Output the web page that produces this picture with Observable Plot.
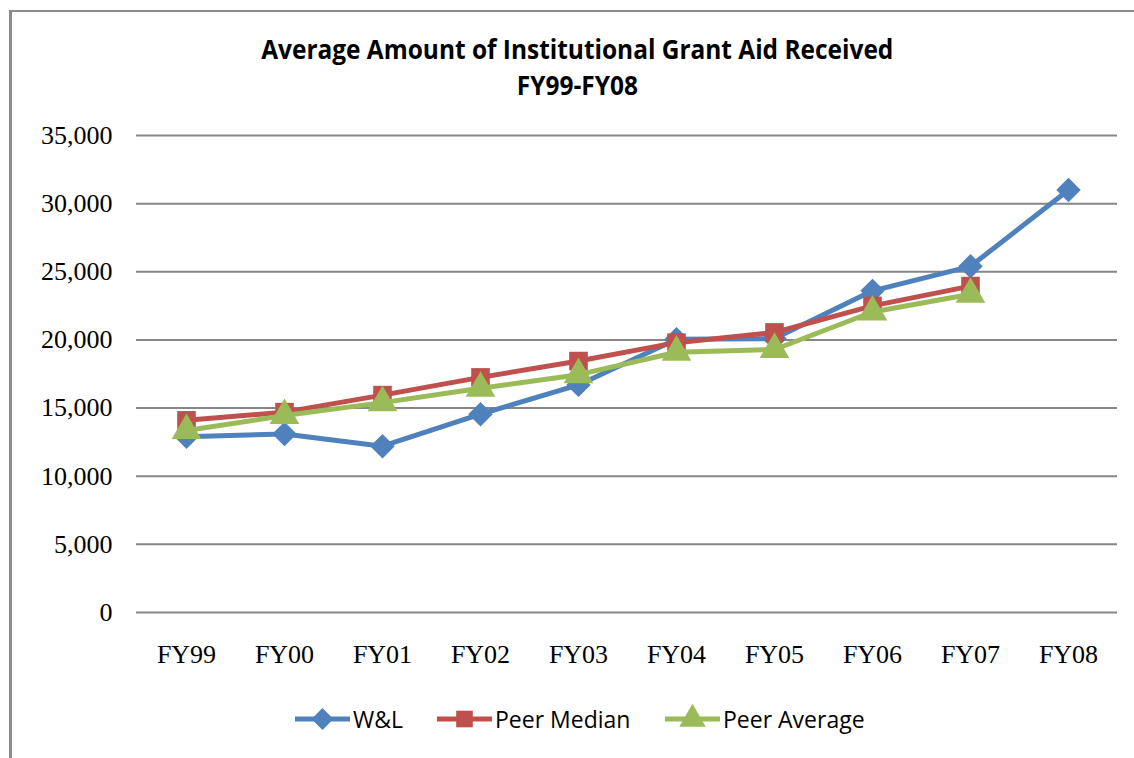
<!DOCTYPE html>
<html>
<head>
<meta charset="utf-8">
<script src="https://cdn.jsdelivr.net/npm/d3@7"></script>
<script src="https://cdn.jsdelivr.net/npm/@observablehq/plot@0.6"></script>
<style>
  html, body { margin: 0; padding: 0; background: #fff; }
  #wrap { position: relative; width: 1134px; height: 758px; overflow: hidden; }
  #frame { position: absolute; left: 9px; top: 10px; right: -5px; bottom: -5px;
           border-top: 2px solid #8c8c8c; border-left: 3px solid #8c8c8c; }
  #title { position: absolute; left: 0; width: 1155px; top: 31px; text-align: center;
           font-family: "Open Sans", sans-serif; font-weight: bold; font-size: 26px;
           line-height: 36px; color: #000; }
  #title span { display: inline-block; transform: scaleX(0.94); transform-origin: center; }
  #chart { position: absolute; left: 0; top: 120px; }
  #legend { position: absolute; left: 0; top: 703px; width: 1134px; height: 32px; }
  .item { position: absolute; top: 0; height: 32px; display: flex; align-items: center;
          font-family: "Open Sans", sans-serif; font-size: 23px; color: #000; }
  .item svg { margin-right: 3px; }
</style>
</head>
<body>
<div id="wrap">
  <div id="frame"></div>
  <div id="title"><span>Average Amount of Institutional Grant Aid Received</span><br><span>FY99-FY08</span></div>
  <div id="chart"></div>
  <div id="legend"></div>
</div>
<script>
const categories = ["FY99","FY00","FY01","FY02","FY03","FY04","FY05","FY06","FY07","FY08"];
const wl      = [12900, 13100, 12200, 14550, 16700, 20050, 20100, 23600, 25400, 31000];
const median  = [14100, 14700, 15950, 17250, 18450, 19800, 20550, 22500, 23950];
const average = [13350, 14450, 15400, 16450, 17450, 19100, 19300, 22050, 23350];
const yTicks  = [0, 5000, 10000, 15000, 20000, 25000, 30000, 35000];

const seriesNames  = ["W&L", "Peer Median", "Peer Average"];
const seriesValues = [wl, median, average];
const seriesColors = ["#4F81BD", "#C0504D", "#9BBB59"];
const seriesSymbols = ["diamond2", "square", "triangle"];
const seriesR = [11, 10.5, 11];

const series = seriesNames.map((name, i) => ({
  name, color: seriesColors[i], symbol: seriesSymbols[i], r: seriesR[i],
  rows: seriesValues[i].map((v, j) => ({cat: categories[j], value: v}))
}));

const marks = [
  Plot.ruleY(yTicks, {stroke: "#868686", strokeWidth: 2}),
  Plot.axisY({ticks: yTicks, tickSize: 0, tickPadding: 24, tickFormat: d3.format(","),
              fill: "#000"}),
  Plot.axisX({tickSize: 0, tickPadding: 32, fill: "#000"})
];
for (const s of series) {
  marks.push(Plot.line(s.rows, {x: "cat", y: "value", stroke: s.color, strokeWidth: 5}));
  marks.push(Plot.dot(s.rows, {x: "cat", y: "value", symbol: () => s.symbol, r: s.r,
                               fill: s.color, stroke: "none"}));
}

const chart = Plot.plot({
  width: 1134, height: 570,
  marginLeft: 136, marginRight: 17, marginTop: 15, marginBottom: 78,
  style: {fontFamily: "'Liberation Serif', 'Times New Roman', serif", fontSize: "26px", color: "#000", background: "transparent", overflow: "visible"},
  x: {type: "point", domain: categories, padding: 0.5, label: null},
  y: {domain: [0, 35000], label: null},
  symbol: {type: "identity"},
  marks
});
document.getElementById("chart").appendChild(chart);

// legend
const legendX = [295, 437, 665];
const legend = d3.select("#legend");
series.forEach((s, i) => {
  const item = legend.append("div").attr("class", "item").style("left", legendX[i] + "px");
  const svg = item.append("svg").attr("width", 55).attr("height", 32);
  svg.append("line").attr("x1", 0).attr("x2", 55).attr("y1", 16).attr("y2", 16)
     .attr("stroke", s.color).attr("stroke-width", 5);
  const sym = {diamond2: d3.symbolDiamond2, square: d3.symbolSquare, triangle: d3.symbolTriangle}[s.symbol];
  svg.append("path").attr("transform", "translate(27.5,16)")
     .attr("d", d3.symbol(sym, Math.PI * s.r * s.r * 0.8)()).attr("fill", s.color);
  item.append("span").text(s.name);
});
</script>
</body>
</html>
